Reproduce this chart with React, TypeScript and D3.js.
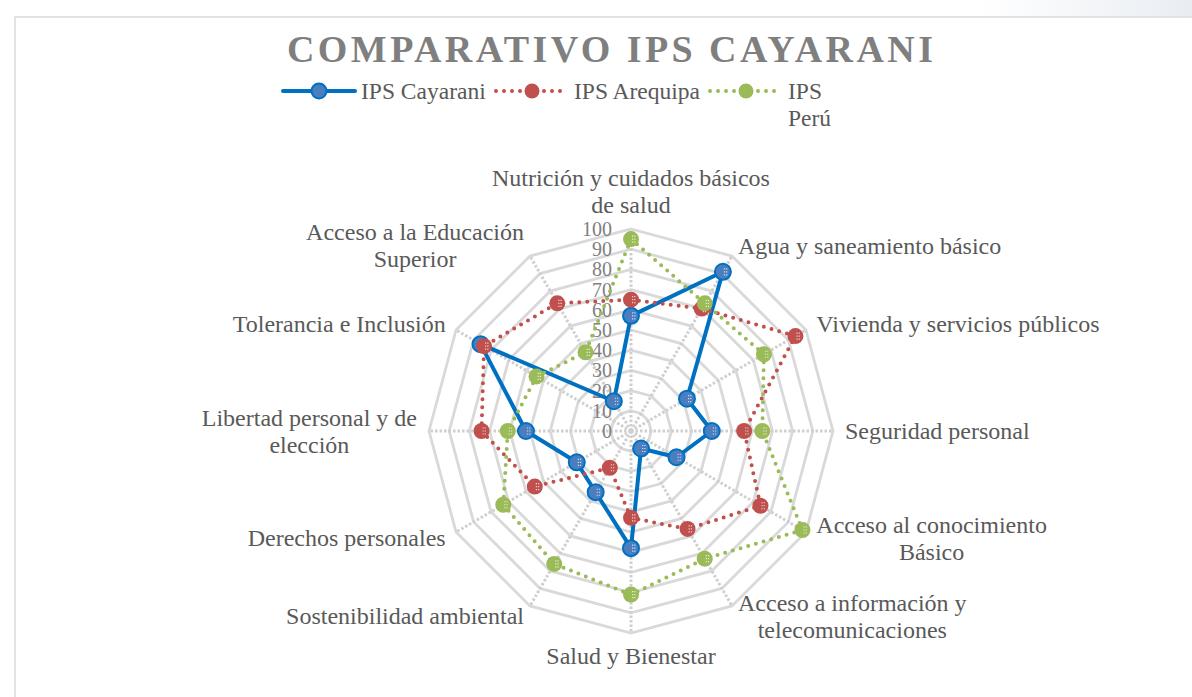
import { useEffect, useRef } from 'react';
import * as d3 from 'd3';

const categories = [
  'Nutrición y cuidados básicos\nde salud',
  'Agua y saneamiento básico',
  'Vivienda y servicios públicos',
  'Seguridad personal',
  'Acceso al conocimiento\nBásico',
  'Acceso a información y\ntelecomunicaciones',
  'Salud y Bienestar',
  'Sostenibilidad ambiental',
  'Derechos personales',
  'Libertad personal y de\nelección',
  'Tolerancia e Inclusión',
  'Acceso a la Educación\nSuperior',
];

const ipsCayarani = [57, 91, 32, 40, 26, 10, 58, 35, 31, 52, 86, 17];
const ipsArequipa = [65, 70, 94, 56, 74, 56, 43, 21, 55, 74, 84, 73];
const ipsPeru = [95, 73, 76, 65, 98, 73, 81, 76, 73, 61, 54, 45];

const tickValues = [0, 10, 20, 30, 40, 50, 60, 70, 80, 90, 100];

const seriesNames = ['IPS Cayarani', 'IPS Arequipa', 'IPS\nPerú'];

const width = 1192;
const height = 697;

const App = () => {
  const ref = useRef<SVGSVGElement>(null);

  useEffect(() => {
    const svg = d3.select(ref.current);
    svg.selectAll('*').remove();

    const cx = 631;
    const cy = 431;
    const R = 202;
    const font = "'Liberation Serif', 'DejaVu Serif', 'Times New Roman', serif";
    const labelSize = 24;
    const lh = 27;

    const r = d3.scaleLinear().domain([0, 100]).range([0, R]);
    const angle = d3
      .scalePoint<number>()
      .domain(d3.range(categories.length + 1))
      .range([0, 2 * Math.PI]);
    const ang = (i: number) => angle(i) as number;
    const px = (i: number, v: number) => cx + r(v) * Math.sin(ang(i));
    const py = (i: number, v: number) => cy - r(v) * Math.cos(ang(i));

    // faint background strip top right
    const defs = svg.append('defs');
    const grad = defs.append('linearGradient').attr('id', 'bgfade').attr('x1', 0).attr('x2', 1);
    grad.append('stop').attr('offset', 0).attr('stop-color', '#e9edf2').attr('stop-opacity', 0);
    grad.append('stop').attr('offset', 1).attr('stop-color', '#e9edf2').attr('stop-opacity', 1);
    svg.append('rect').attr('x', 980).attr('y', 0).attr('width', 212).attr('height', 16).attr('fill', 'url(#bgfade)');

    // frame
    svg
      .append('path')
      .attr('d', `M15,${height} L15,17 L${width},17`)
      .attr('fill', 'none')
      .attr('stroke', '#d9d9d9')
      .attr('stroke-width', 1.5);

    // title
    svg
      .append('text')
      .attr('x', 610)
      .attr('y', 62)
      .attr('text-anchor', 'middle')
      .style('font-family', font)
      .attr('font-weight', 'bold')
      .attr('font-size', 38)
      .attr('fill', '#7f7f7f')
      .attr('textLength', 646)
      .attr('lengthAdjust', 'spacing')
      .text('COMPARATIVO IPS CAYARANI');

    const grid = svg.append('g');
    // rings
    tickValues.slice(1).forEach((t) => {
      const pts = categories.map((_, i) => [px(i, t), py(i, t)] as [number, number]);
      grid
        .append('path')
        .attr('d', d3.line().curve(d3.curveLinearClosed)(pts))
        .attr('fill', 'none')
        .attr('stroke', '#d9d9d9')
        .attr('stroke-width', 2.8);
    });
    // spokes
    categories.forEach((_, i) => {
      grid
        .append('line')
        .attr('x1', cx)
        .attr('y1', cy)
        .attr('x2', px(i, 100))
        .attr('y2', py(i, 100))
        .attr('stroke', '#cfcfcf')
        .attr('stroke-width', 3)
        .attr('stroke-dasharray', '2.5 2');
    });

    // tick labels
    svg
      .append('g')
      .selectAll('text')
      .data(tickValues)
      .join('text')
      .attr('x', cx - 19)
      .attr('y', (d) => cy - r(d) + 7)
      .attr('text-anchor', 'end')
      .style('font-family', font)
      .attr('font-size', 20)
      .attr('fill', '#808080')
      .text((d) => d);

    // category labels
    const labelG = svg.append('g');
    categories.forEach((c, i) => {
      const a = ang(i);
      const s = Math.sin(a);
      const co = Math.cos(a);
      const ax = cx + (R + 12) * s;
      const ay = cy - (R + 12) * co;
      const lines = c.split('\n');
      const texts = lines.map((l) =>
        labelG
          .append('text')
          .style('font-family', font)
          .attr('font-size', labelSize)
          .attr('fill', '#595959')
          .attr('text-anchor', 'middle')
          .text(l)
      );
      const w = d3.max(texts, (t) => (t.node() as SVGTextElement).getComputedTextLength()) || 0;
      let bx = ax;
      if (s > 0.01) bx = ax + w / 2;
      else if (s < -0.01) bx = ax - w / 2;
      let firstBase: number;
      if (Math.abs(s) < 0.01 && co > 0) firstBase = ay - 4 - (lines.length - 1) * lh;
      else if (Math.abs(s) < 0.01 && co < 0) firstBase = ay + 19;
      else firstBase = ay - ((lines.length - 1) * lh) / 2 + 8;
      texts.forEach((t, k) => t.attr('x', bx).attr('y', firstBase + k * lh));
    });

    const series = [
      { values: ipsCayarani, color: '#0070c0', fill: '#4a7ebf', dash: null, width: 4 },
      { values: ipsArequipa, color: '#c0504d', fill: '#c0504d', dash: '0 8', width: 4 },
      { values: ipsPeru, color: '#9bbb59', fill: '#9bbb59', dash: '0 8', width: 4 },
    ];

    const drawMarker = (g: any, x: number, y: number, s: any, rad: number) => {
      g.append('circle')
        .attr('cx', x)
        .attr('cy', y)
        .attr('r', rad)
        .attr('fill', s.fill)
        .attr('stroke', s.color)
        .attr('stroke-width', s.dash ? 0 : 2);
      [-3, 0, 3].forEach((dy) =>
        g
          .append('line')
          .attr('x1', x + 1)
          .attr('x2', x + 5)
          .attr('y1', y + dy)
          .attr('y2', y + dy)
          .attr('stroke', '#ffffff')
          .attr('stroke-opacity', 0.75)
          .attr('stroke-width', 1.2)
          .attr('stroke-dasharray', '1.2 1')
      );
    };

    const plot = svg.append('g');
    series.forEach((s) => {
      const pts = s.values.map((v, i) => [px(i, v), py(i, v)] as [number, number]);
      plot
        .append('path')
        .attr('d', d3.line().curve(d3.curveLinearClosed)(pts))
        .attr('fill', 'none')
        .attr('stroke', s.color)
        .attr('stroke-width', s.width)
        .attr('stroke-linecap', 'round')
        .attr('stroke-linejoin', 'round')
        .attr('stroke-dasharray', s.dash);
      pts.forEach((p) => drawMarker(plot, p[0], p[1], s, 8));
    });

    // legend
    const legendX = [283, 496, 710];
    const legend = svg.append('g');
    series.forEach((s, k) => {
      const x0 = legendX[k];
      const lw = 72;
      legend
        .append('line')
        .attr('x1', x0)
        .attr('x2', x0 + lw)
        .attr('y1', 91)
        .attr('y2', 91)
        .attr('stroke', s.color)
        .attr('stroke-width', s.width)
        .attr('stroke-linecap', 'round')
        .attr('stroke-dasharray', s.dash);
      legend
        .append('circle')
        .attr('cx', x0 + lw / 2)
        .attr('cy', 91)
        .attr('r', 7.5)
        .attr('fill', s.fill)
        .attr('stroke', s.color)
        .attr('stroke-width', s.dash ? 0 : 2);
      seriesNames[k].split('\n').forEach((l, j) => {
        legend
          .append('text')
          .attr('x', x0 + lw + 6)
          .attr('y', 99 + j * 27)
          .style('font-family', font)
          .attr('font-size', 23.5)
          .attr('fill', '#595959')
          .text(l);
      });
    });
  }, []);

  return (
    <svg
      ref={ref}
      width={width}
      height={height}
      style={{ position: 'absolute', left: 0, top: 0, background: '#ffffff' }}
    />
  );
};

export default App;
